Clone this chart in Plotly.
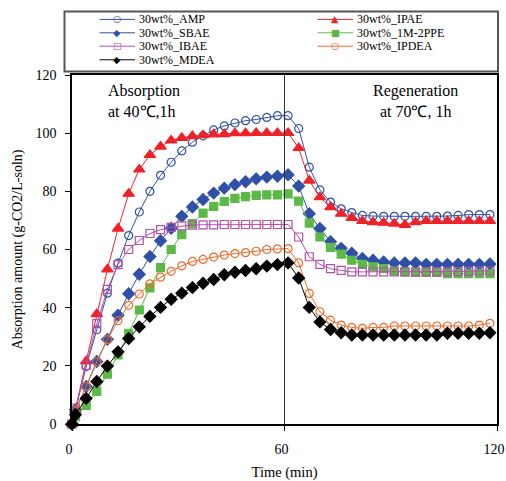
import plotly.graph_objects as go

# Sampling times (min): absorption 0-61, regeneration 64-118
time_min = [0, 1, 4, 7, 10, 13, 16, 19, 22, 25, 28, 31, 34, 37, 40, 43, 46, 49, 52, 55, 58, 61,
            64, 67, 70, 73, 76, 79, 82, 85, 88, 91, 94, 97, 100, 103, 106, 109, 112, 115, 118]

amp = [0, 5.0, 19.8, 32.4, 45.0, 55.3, 64.8, 72.9, 80.0, 85.5, 90.0, 93.9, 96.9, 99.1, 101.1, 102.5,
       103.5, 104.3, 104.7, 105.4, 106.0, 106.0,
       101.6, 88.3, 80.5, 76.3, 74.0, 72.7, 71.7, 71.5, 71.4, 71.4, 71.4, 71.4, 71.4, 71.4, 71.5, 71.7,
       72.0, 72.0, 72.0]
ipae = [0, 4.9, 21.6, 37.8, 53.2, 67.2, 79.2, 87.5, 92.5, 95.4, 97.5, 98.4, 99.0, 99.3, 99.6, 99.7,
        100.0, 100.0, 100.1, 100.1, 100.1, 100.1,
        94.9, 83.7, 78.0, 74.6, 72.3, 70.9, 69.8, 69.4, 69.2, 68.9, 68.5, 69.4, 69.8, 69.8, 69.8, 69.8,
        69.8, 69.8, 69.8]
sbae = [0, 4.9, 12.9, 21.5, 29.1, 37.4, 44.8, 51.5, 57.6, 63.0, 67.3, 71.4, 74.6, 77.2, 79.4, 81.1,
        82.3, 83.3, 84.3, 84.9, 85.2, 85.7,
        81.8, 72.3, 67.2, 62.7, 60.4, 58.7, 56.9, 56.3, 55.7, 55.4, 55.4, 55.4, 54.9, 54.9, 54.9, 54.9,
        54.9, 54.9, 55.0]
m2ppe = [0, 2.5, 6.4, 11.2, 17.1, 23.8, 31.2, 39.2, 46.8, 53.8, 60.0, 65.1, 68.9, 72.5, 74.8, 76.5,
         77.6, 78.2, 78.6, 78.8, 78.8, 79.1,
         76.6, 69.1, 64.3, 60.7, 58.4, 56.3, 54.9, 54.0, 53.4, 52.6, 52.3, 52.1, 52.1, 52.1, 51.7, 51.7,
         51.7, 51.7, 51.7]
ibae = [0, 5.5, 20.2, 34.5, 46.3, 54.8, 60.0, 63.1, 65.5, 66.8, 67.6, 68.1, 68.4, 68.5, 68.5, 68.6,
        68.6, 68.6, 68.6, 68.6, 68.6, 68.6,
        64.3, 57.5, 54.9, 53.4, 52.8, 52.3, 52.3, 52.3, 52.3, 52.3, 52.3, 52.3, 52.3, 52.3, 52.3, 52.4,
        52.5, 52.6, 52.6]
ipdea = [0, 4.7, 12.9, 21.4, 29.0, 35.5, 40.8, 44.7, 48.2, 50.5, 52.5, 54.4, 55.9, 56.6, 57.4, 58.1,
         58.6, 58.9, 59.4, 60.0, 60.2, 60.3,
         55.4, 44.9, 38.6, 35.7, 34.0, 33.2, 32.9, 33.2, 33.2, 33.7, 33.7, 33.7, 33.7, 33.7, 33.7, 33.7,
         33.7, 34.0, 34.6]
mdea = [0, 3.2, 8.8, 14.6, 19.9, 24.8, 29.4, 33.4, 37.0, 40.1, 42.9, 45.0, 46.9, 48.4, 49.7, 51.3,
        52.2, 52.8, 53.4, 54.3, 54.8, 55.4,
        50.2, 40.1, 35.1, 32.5, 31.4, 30.6, 30.6, 30.6, 30.6, 30.6, 30.6, 30.6, 30.6, 30.6, 31.2, 31.2,
        31.2, 31.2, 31.4]

series_names = ["30wt%_AMP", "30wt%_IPAE", "30wt%_SBAE", "30wt%_1M-2PPE",
                "30wt%_IBAE", "30wt%_IPDEA", "30wt%_MDEA"]
series_values = [amp, ipae, sbae, m2ppe, ibae, ipdea, mdea]

x_ticks = [0, 60, 120]
y_ticks = [0, 20, 40, 60, 80, 100, 120]

# colour, marker symbol, marker size, legend glyph
styles = [
    ("#2F50A6", "circle-open", 8, "\u25CB"),
    ("#EE2229", "triangle-up", 10, "\u25B2"),
    ("#2F50A6", "diamond", 9, "\u25C6"),
    ("#5CB947", "square", 8, "\u25A0"),
    ("#B54FAE", "square-open", 8, "\u25A1"),
    ("#F26B2A", "circle-open", 8, "\u25CB"),
    ("#000000", "diamond", 9, "\u25C6"),
]

SERIF = "Liberation Serif, Times New Roman, serif"
SANS = "DejaVu Sans"

# page geometry (px)
W, H = 506, 481
ML, MR, MT, MB = 72, 9, 75, 57
PW, PH = W - ML - MR, H - MT - MB


def px_x(px):
    return (px - ML) / PW


def px_y(py):
    return (H - MB - py) / PH


fig = go.Figure()
for name, vals, (col, sym, size, _) in zip(series_names, series_values, styles):
    fig.add_trace(go.Scatter(
        x=time_min, y=vals, name=name, mode="lines+markers",
        line=dict(color=col, width=1),
        marker=dict(symbol=sym, size=size, color=col, line=dict(color=col, width=1.2)),
        cliponaxis=False, showlegend=False,
    ))

# divider between absorption and regeneration stages
fig.add_vline(x=60, line=dict(color="#333333", width=1))

# legend box: two columns, filled row by row
fig.add_shape(type="rect", xref="paper", yref="paper", layer="above",
              x0=px_x(64.5), x1=px_x(498), y0=px_y(71.5), y1=px_y(11.5),
              line=dict(color="#555555", width=2), fillcolor="white")
row_y = [19.4, 32.8, 46.2, 59.8]
col_x = [99.5, 317.5]
for i, (name, (col, sym, size, glyph)) in enumerate(zip(series_names, styles)):
    r, c = divmod(i, 2)
    y = px_y(row_y[r])
    x0 = col_x[c]
    fig.add_shape(type="line", xref="paper", yref="paper", layer="above",
                  x0=px_x(x0), x1=px_x(x0 + 35.5), y0=y, y1=y,
                  line=dict(color=col, width=1))
    fig.add_annotation(x=px_x(x0 + 17.5), y=y, xref="paper", yref="paper",
                       xanchor="center", yanchor="middle", showarrow=False,
                       text=glyph, bgcolor="rgba(255,255,255,0)", borderpad=0,
                       font=dict(family=SANS, size=9.5, color=col), yshift=0.5)
    fig.add_annotation(x=px_x(x0 + 38.5), y=y, xref="paper", yref="paper",
                       xanchor="left", yanchor="middle", showarrow=False, borderpad=0,
                       text=name, font=dict(family=SERIF, size=12, color="black"))

fig.add_annotation(x=px_x(106), y=px_y(80), xref="paper", yref="paper", xanchor="left",
                   yanchor="top", align="left", showarrow=False,
                   text="Absorption<br>at 40\u2103,1h", font=dict(family=SERIF, size=16, color="black"))
fig.add_annotation(x=px_x(415), y=px_y(80), xref="paper", yref="paper", xanchor="center",
                   yanchor="top", align="center", showarrow=False,
                   text="Regeneration<br>at 70\u2103, 1h", font=dict(family=SERIF, size=16, color="black"))

fig.update_xaxes(range=[0, 120], tickvals=x_ticks, ticks="outside", ticklen=5, tickwidth=1,
                 tickcolor="black", showline=True, linecolor="black", linewidth=1.5, mirror=True,
                 showgrid=False, zeroline=False, ticklabelstandoff=6, ticklabeloverflow="allow",
                 ticklabelshift=-3,
                 title=dict(text="Time (min)", font=dict(family=SERIF, size=14.5), standoff=14),
                 tickfont=dict(family=SERIF, size=14, color="black"))
fig.update_yaxes(range=[0, 120], tickvals=y_ticks, ticks="outside", ticklen=5, tickwidth=1,
                 tickcolor="black", showline=True, linecolor="black", linewidth=1.5, mirror=True,
                 showgrid=False, zeroline=False, ticklabelstandoff=6, ticklabeloverflow="allow",
                 title=dict(text="Absorption amount (g-CO2/L-soln)", font=dict(family=SERIF, size=14),
                            standoff=10),
                 tickfont=dict(family=SERIF, size=14, color="black"))

fig.update_layout(
    width=W, height=H,
    margin=dict(l=ML, r=MR, t=MT, b=MB, autoexpand=False),
    paper_bgcolor="white", plot_bgcolor="white",
    font=dict(family=SERIF, size=14, color="black"),
    showlegend=False,
)

fig.write_html("out.html")
